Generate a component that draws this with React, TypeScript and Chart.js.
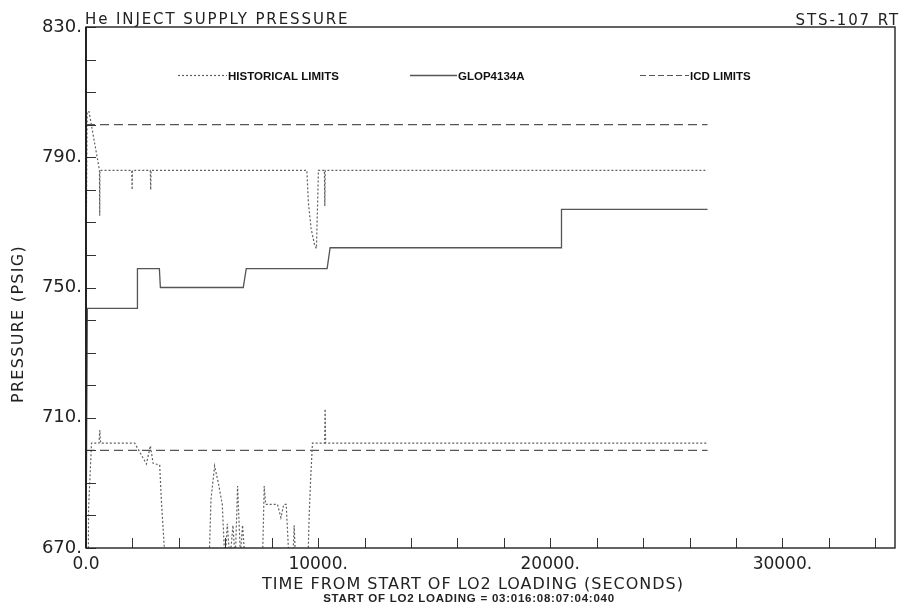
import React, { useEffect, useRef } from "react";
import { Chart, registerables } from "chart.js";

Chart.register(...registerables);

// ---- text ----
const TITLE = "He INJECT SUPPLY PRESSURE";
const RUN_ID = "STS-107 RT";
const X_TITLE = "TIME FROM START OF LO2 LOADING (SECONDS)";
const X_SUBTITLE = "START OF LO2 LOADING = 03:016:08:07:04:040";
const Y_TITLE = "PRESSURE (PSIG)";
const LEGEND_LABELS = ["HISTORICAL LIMITS", "GLOP4134A", "ICD LIMITS"];

// ---- axes ----
const X_MIN = 0;
const X_MAX = 34850;
const X_TICKS = [0, 2000, 4000, 6000, 8000, 10000, 12000, 14000, 16000, 18000, 20000, 22000, 24000, 26000, 28000, 30000, 32000, 34000];
const X_LABELED = [0, 10000, 20000, 30000];
const Y_MIN = 670;
const Y_MAX = 830;
const Y_TICKS = [670, 680, 690, 700, 710, 720, 730, 740, 750, 760, 770, 780, 790, 800, 810, 820, 830];
const Y_LABELED = [670, 710, 750, 790, 830];

// ---- GLOP4134A (solid) ----
const glopTime = [0, 60, 2215, 2216, 3161, 3204, 6774, 6903, 10387, 10516, 20482, 20483, 26774];
const glopPsi = [670, 743.6, 743.6, 755.8, 755.8, 750, 750, 755.8, 755.8, 762.2, 762.2, 774, 774];

// ---- historical limits, upper (dotted) ----
const histHiTime = [0, 50, 130, 581, 590, 600, 1970, 1987, 2004, 2770, 2787, 2804, 9514, 9580, 9700, 9850, 9927, 10013, 10270, 10288, 10306, 26774];
const histHiPsi = [754, 804, 804, 786, 772, 786, 786, 780, 786, 786, 780, 786, 786, 776, 768, 763, 762, 786, 786, 775, 786, 786];

// ---- historical limits, lower (dotted) ----
const histLoTime = [100, 110, 237, 560, 594, 630, 2099, 2602, 2774, 2890, 3174, 3247, 3419, 5300, 5385, 5540, 5700, 5871, 5987, 6086, 6200, 6330, 6430, 6529, 6650, 6744, 6860, 7600, 7677, 7740, 7806, 8250, 8396, 8520, 8624, 8753, 8900, 8968, 9030, 9560, 9613, 9680, 9755, 10280, 10301, 10322, 26774];
const histLoPsi = [665, 682, 702.2, 702.2, 706.2, 702.2, 702.2, 695.8, 701.4, 696, 695.5, 684.5, 665, 665, 685, 695.2, 690, 683.4, 665, 677.4, 666, 677, 666, 689, 668, 677, 665, 665, 689, 683.4, 683.4, 683.4, 679.3, 683.4, 683.4, 665, 665, 677, 665, 665, 680, 691.6, 702.2, 702.2, 712.7, 702.2, 702.2];

// ---- ICD limits (dashed) ----
const icdTime = [0, 26774];
const icdHiPsi = [800, 800];
const icdLoPsi = [700, 700];

const pts = (t: number[], v: number[]) => t.map((x, i) => ({ x, y: v[i] }));

const FONT = "'DejaVu Sans', sans-serif";
const BOLD = "'Liberation Sans', Arial, sans-serif";

const DOT = [2, 2];
const DASH = [9, 5];
const LEGEND_DASH = [6, 3];

export default function App() {
  const ref = useRef<HTMLCanvasElement | null>(null);

  useEffect(() => {
    const canvas = ref.current;
    if (!canvas) return;

    const decor = {
      id: "decor",
      afterDraw(chart: any) {
        const { ctx, chartArea: a } = chart;
        const xs = chart.scales.x;
        const ys = chart.scales.y;
        ctx.save();
        // ticks inward
        ctx.strokeStyle = "#333";
        ctx.lineWidth = 1;
        ctx.setLineDash([]);
        for (const t of xs.ticks) {
          const px = Math.round(xs.getPixelForValue(t.value)) + 0.5;
          ctx.beginPath();
          ctx.moveTo(px, a.bottom);
          ctx.lineTo(px, a.bottom - 10);
          ctx.stroke();
        }
        for (const t of ys.ticks) {
          const py = Math.round(ys.getPixelForValue(t.value)) + 0.5;
          ctx.beginPath();
          ctx.moveTo(a.left, py);
          ctx.lineTo(a.left + 10, py);
          ctx.stroke();
        }
        // frame
        ctx.strokeStyle = "#222";
        ctx.lineWidth = 1.4;
        ctx.strokeRect(a.left, a.top, a.right - a.left, a.bottom - a.top);
        ctx.lineWidth = 2;
        ctx.beginPath();
        ctx.moveTo(a.left, a.top);
        ctx.lineTo(a.left, a.bottom);
        ctx.stroke();

        // titles
        ctx.fillStyle = "#222";
        ctx.font = `15px ${FONT}`;
        (ctx as any).letterSpacing = "1.9px";
        ctx.textAlign = "left";
        ctx.textBaseline = "alphabetic";
        ctx.fillText(TITLE, 85, 24);
        ctx.textAlign = "right";
        ctx.fillText(RUN_ID, 900, 25);

        (ctx as any).letterSpacing = "1px";
        ctx.font = `16px ${FONT}`;
        ctx.textAlign = "center";
        ctx.fillText(X_TITLE, 473, 589);

        ctx.save();
        (ctx as any).letterSpacing = "1.3px";
        ctx.translate(23, 324);
        ctx.rotate(-Math.PI / 2);
        ctx.fillText(Y_TITLE, 0, 0);
        ctx.restore();

        (ctx as any).letterSpacing = "0.75px";
        ctx.font = `bold 11.5px ${BOLD}`;
        ctx.textAlign = "center";
        ctx.fillText(X_SUBTITLE, 469, 602);
        (ctx as any).letterSpacing = "0px";

        // legend
        const ds = chart.data.datasets;
        const items = [
          { d: ds[0], x0: 178, x1: 227, label: LEGEND_LABELS[0], dash: DOT },
          { d: ds[2], x0: 410, x1: 457, label: LEGEND_LABELS[1], dash: [] as number[] },
          { d: ds[3], x0: 640, x1: 689, label: LEGEND_LABELS[2], dash: LEGEND_DASH },
        ];
        for (const it of items) {
          ctx.strokeStyle = it.d.borderColor;
          ctx.lineWidth = it.d.borderWidth;
          ctx.setLineDash(it.dash);
          ctx.beginPath();
          ctx.moveTo(it.x0, 75.5);
          ctx.lineTo(it.x1, 75.5);
          ctx.stroke();
          ctx.setLineDash([]);
          ctx.fillStyle = "#111";
          ctx.font = `bold 11.5px ${BOLD}`;
          ctx.textAlign = "left";
          ctx.fillText(it.label, it.x1 + 1, 79.5);
        }
        ctx.restore();
      },
    };

    const chart = new Chart(canvas, {
      type: "line",
      data: {
        datasets: [
          { label: LEGEND_LABELS[0], data: pts(histHiTime, histHiPsi), borderColor: "#606060", borderWidth: 1.2, borderDash: DOT, pointRadius: 0, tension: 0 },
          { label: LEGEND_LABELS[0] + " low", data: pts(histLoTime, histLoPsi), borderColor: "#606060", borderWidth: 1.2, borderDash: DOT, pointRadius: 0, tension: 0 },
          { label: LEGEND_LABELS[1], data: pts(glopTime, glopPsi), borderColor: "#555", borderWidth: 1.3, pointRadius: 0, tension: 0 },
          { label: LEGEND_LABELS[2], data: pts(icdTime, icdHiPsi), borderColor: "#555", borderWidth: 1.2, borderDash: DASH, pointRadius: 0, tension: 0 },
          { label: LEGEND_LABELS[2] + " low", data: pts(icdTime, icdLoPsi), borderColor: "#555", borderWidth: 1.2, borderDash: DASH, pointRadius: 0, tension: 0 },
        ],
      },
      options: {
        responsive: false,
        animation: false,
        events: [],
        layout: { padding: { left: 0, top: 27, right: 7, bottom: 0 } },
        plugins: { legend: { display: false }, title: { display: false }, tooltip: { enabled: false } },
        scales: {
          x: {
            type: "linear",
            min: X_MIN,
            max: X_MAX,
            grid: { display: false, drawTicks: false },
            border: { display: false },
            afterBuildTicks: (s: any) => { s.ticks = X_TICKS.map((value) => ({ value })); },
            ticks: {
              autoSkip: false,
              maxRotation: 0,
              padding: 6,
              color: "#222",
              font: { family: FONT, size: 17 },
              callback: (v: any) => (X_LABELED.includes(Number(v)) ? (Number(v) === 0 ? "0.0" : `${v}.`) : ""),
            },
            afterFit: (s: any) => { s.height = 56; },
          },
          y: {
            type: "linear",
            min: Y_MIN,
            max: Y_MAX,
            grid: { display: false, drawTicks: false },
            border: { display: false },
            afterBuildTicks: (s: any) => { s.ticks = Y_TICKS.map((value) => ({ value })); },
            ticks: {
              autoSkip: false,
              padding: 4,
              color: "#222",
              font: { family: FONT, size: 18 },
              callback: (v: any) => (Y_LABELED.includes(Number(v)) ? `${v}.` : ""),
            },
            afterFit: (s: any) => { s.width = 86; },
          },
        },
      },
      plugins: [decor],
    } as any);

    return () => chart.destroy();
  }, []);

  return (
    <div style={{ position: "absolute", left: 0, top: 0, width: 902, height: 604, background: "#fff" }}>
      <canvas ref={ref} width={902} height={604} style={{ display: "block" }} />
    </div>
  );
}
